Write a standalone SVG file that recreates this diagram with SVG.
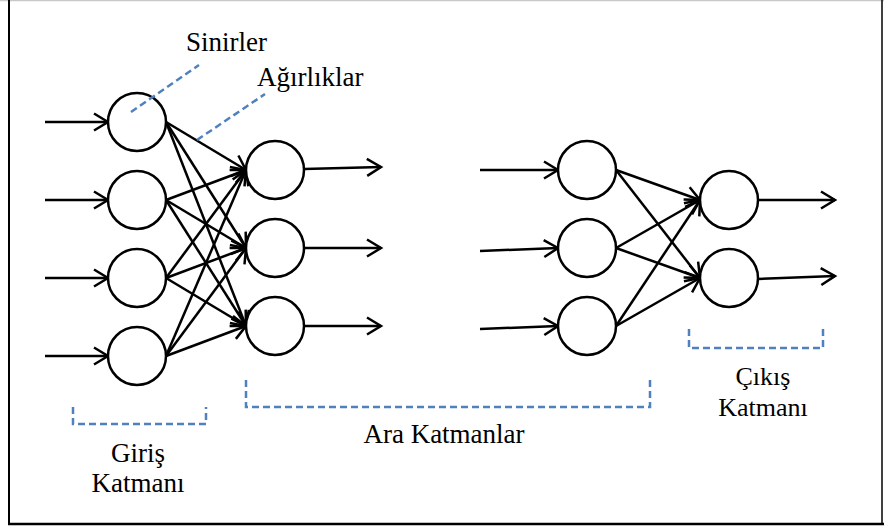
<svg xmlns="http://www.w3.org/2000/svg" width="884" height="528" viewBox="0 0 884 528">
<defs>
<style>
.n{fill:#fff;stroke:#000;stroke-width:2.5}
.c{stroke:#000;stroke-width:2.5;fill:none}
.d{stroke:#4f81bd;stroke-width:2.5;fill:none;stroke-dasharray:7 4}
.t{font-family:"Liberation Serif",serif;font-size:27px;fill:#000}
</style>
<marker id="arr" markerUnits="userSpaceOnUse" markerWidth="22" markerHeight="22" refX="17" refY="10" orient="auto">
<path d="M3,1.5 L17,10 L3,18.5" fill="none" stroke="#000" stroke-width="2.5"/>
</marker>
</defs>
<rect x="0" y="0" width="884" height="528" fill="#fff"/>
<line x1="0" y1="0.5" x2="884" y2="0.5" stroke="#c8c8c8" stroke-width="1.5"/>
<line x1="9" y1="0" x2="9" y2="524" stroke="#000" stroke-width="2"/>
<line x1="8" y1="524" x2="884" y2="524" stroke="#000" stroke-width="2.5"/>
<line x1="882" y1="0" x2="882" y2="524" stroke="#000" stroke-width="1.5"/>
<g id="connectors" class="c" marker-end="url(#arr)">
<line x1="45" y1="122" x2="108" y2="122"/>
<line x1="45" y1="200" x2="108" y2="200"/>
<line x1="45" y1="278" x2="108" y2="278"/>
<line x1="45" y1="356" x2="108" y2="356"/>
<line x1="166" y1="122" x2="246" y2="170"/>
<line x1="166" y1="122" x2="246" y2="248"/>
<line x1="166" y1="122" x2="246" y2="326"/>
<line x1="166" y1="200" x2="246" y2="170"/>
<line x1="166" y1="200" x2="246" y2="248"/>
<line x1="166" y1="200" x2="246" y2="326"/>
<line x1="166" y1="278" x2="246" y2="170"/>
<line x1="166" y1="278" x2="246" y2="248"/>
<line x1="166" y1="278" x2="246" y2="326"/>
<line x1="166" y1="356" x2="246" y2="170"/>
<line x1="166" y1="356" x2="246" y2="248"/>
<line x1="166" y1="356" x2="246" y2="326"/>
<line x1="304" y1="169" x2="381" y2="167"/>
<line x1="304" y1="248" x2="381" y2="248"/>
<line x1="304" y1="326" x2="381" y2="326"/>
<line x1="480" y1="170" x2="558" y2="170"/>
<line x1="480" y1="251" x2="558" y2="248"/>
<line x1="480" y1="329" x2="558" y2="326"/>
<line x1="616" y1="170" x2="700" y2="200"/>
<line x1="616" y1="170" x2="700" y2="278"/>
<line x1="616" y1="248" x2="700" y2="200"/>
<line x1="616" y1="248" x2="700" y2="278"/>
<line x1="616" y1="326" x2="700" y2="200"/>
<line x1="616" y1="326" x2="700" y2="278"/>
<line x1="758" y1="200" x2="835" y2="200"/>
<line x1="758" y1="279" x2="835" y2="276"/>
</g>
<g id="input-layer">
<circle id="i1" class="n" cx="137" cy="122" r="29"/>
<circle id="i2" class="n" cx="137" cy="200" r="29"/>
<circle id="i3" class="n" cx="137" cy="278" r="29"/>
<circle id="i4" class="n" cx="137" cy="356" r="29"/>
</g>
<g id="hidden-layer-1">
<circle id="h1" class="n" cx="275" cy="170" r="29"/>
<circle id="h2" class="n" cx="275" cy="248" r="29"/>
<circle id="h3" class="n" cx="275" cy="326" r="29"/>
</g>
<g id="hidden-layer-2">
<circle id="k1" class="n" cx="587" cy="170" r="29"/>
<circle id="k2" class="n" cx="587" cy="248" r="29"/>
<circle id="k3" class="n" cx="587" cy="326" r="29"/>
</g>
<g id="output-layer">
<circle id="o1" class="n" cx="729" cy="200" r="29"/>
<circle id="o2" class="n" cx="729" cy="278" r="29"/>
</g>
<g id="annotations">
<line class="d" x1="131" y1="112" x2="199" y2="65"/>
<line class="d" x1="197" y1="140" x2="265" y2="94"/>
<text class="t" x="186" y="51">Sinirler</text>
<text class="t" x="257" y="86">Ağırlıklar</text>
</g>
<g id="brackets">
<path class="d" d="M73,407 V424 H206 V407"/>
<path class="d" d="M246,380 V407 H650 V379"/>
<path class="d" d="M689,329 V348 H823 V329"/>
</g>
<g id="labels" class="t" text-anchor="middle">
<text x="138" y="462">Giriş</text>
<text x="138" y="492">Katmanı</text>
<text x="444" y="443">Ara Katmanlar</text>
<text x="763" y="385" style="font-size:26px">Çıkış</text>
<text x="763" y="416" style="font-size:26px">Katmanı</text>
</g>
</svg>
